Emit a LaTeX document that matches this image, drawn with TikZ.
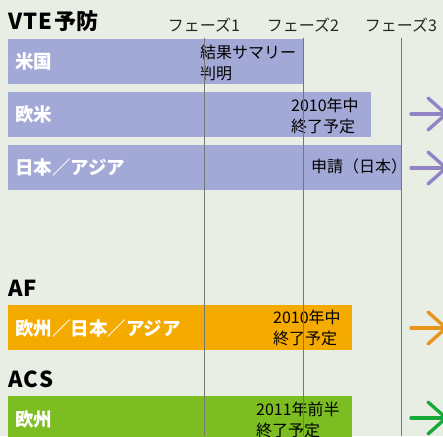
\documentclass[tikz,border=0pt]{standalone}
\usepackage{fontspec}
\setmainfont{Noto Sans CJK JP}
\definecolor{bgc}{HTML}{E9EEE5}
\definecolor{barp}{HTML}{A3A9D6}
\definecolor{baro}{HTML}{F5AA00}
\definecolor{barg}{HTML}{7CBD22}
\definecolor{arrp}{HTML}{9283C6}
\definecolor{arro}{HTML}{E8951E}
\definecolor{arrg}{HTML}{17A83A}
\definecolor{vline}{HTML}{767676}
\tikzset{
  bar/.style={draw=none, inner sep=0pt, anchor=north west, minimum height=45pt},
  lbl/.style={text=white, font=\fontsize{18.5}{22}\selectfont\bfseries, anchor=west, inner sep=0pt},
  note/.style={text=black, font=\fontsize{16}{21.5}\selectfont, align=left, anchor=west, inner sep=0pt},
  head/.style={text=black, font=\fontsize{22}{24}\selectfont\bfseries, anchor=base west, inner sep=0pt},
  phase/.style={text=black!85, font=\fontsize{16}{18}\selectfont, anchor=base, inner sep=0pt},
  grid/.style={draw=vline, line width=0.8pt},
  arr/.style={line width=3.4pt, line cap=round},
}
\begin{document}
\begin{tikzpicture}[x=1pt,y=-1pt]
\fill[bgc] (0,0) rectangle (443,436);
\useasboundingbox (0,0) rectangle (443,436);
\clip (0,0) rectangle (443,436);
% headings
\node[head] (hvte) at (8,30) {V\kern1pt T\kern1pt E\kern2pt 予防};
\node[head] (haf) at (8,296) {A\kern1pt F};
\node[head] (hacs) at (8,387) {A\kern1pt C\kern1pt S};
% phase labels
\node[phase] (p1) at (204,31) {フェーズ1};
\node[phase] (p2) at (303,31) {フェーズ2};
\node[phase] (p3) at (401,31) {フェーズ3};
% bars
\node[bar, fill=barp, minimum width=295pt] (b1) at (8,38.5) {};
\node[bar, fill=barp, minimum width=363pt] (b2) at (8,92) {};
\node[bar, fill=barp, minimum width=393pt] (b3) at (8,145) {};
\node[bar, fill=baro, minimum width=344pt] (b4) at (8,305) {};
\node[bar, fill=barg, minimum width=344pt] (b5) at (8,396) {};
% labels
\node[lbl] (l1) at (15,61) {米国};
\node[lbl] (l2) at (15,114.5) {欧米};
\node[lbl] (l3) at (15,167) {日本／アジア};
\node[lbl] (l4) at (15,328) {欧州／日本／アジア};
\node[lbl] (l5) at (15,419) {欧州};
% notes
\node[note] (n1) at (200,63) {結果サマリー\\判明};
\node[note] (n2) at (291,116) {2010年中\\終了予定};
\node[note] (n3) at (311,166) {申請（日本）};
\node[note] (n4) at (273,328) {2010年中\\終了予定};
\node[note] (n5) at (256,420) {2011年前半\\終了予定};
% vertical lines
\coordinate (v1t) at (204,38.5); \coordinate (v1b) at (204,436);
\coordinate (v2t) at (303,38.5); \coordinate (v2b) at (303,436);
\coordinate (v3t) at (401,38.5); \coordinate (v3b) at (401,436);
\draw[grid] (v1t) -- (v1b);
\draw[grid] (v2t) -- (v2b);
\draw[grid] (v3t) -- (v3b);
% arrows
\foreach \yy/\cc in {114/arrp,168/arrp,328/arro,418/arrg}{
  \draw[arr, draw=\cc] (411,\yy) -- (446,\yy);
  \draw[arr, draw=\cc] (428,\yy-16) -- (446,\yy) -- (428,\yy+16);
}
\end{tikzpicture}
\end{document}
